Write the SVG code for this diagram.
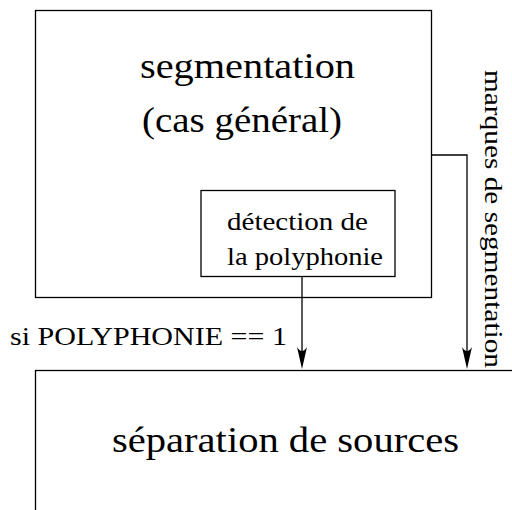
<svg xmlns="http://www.w3.org/2000/svg" width="512" height="510" viewBox="0 0 512 510">
<style>
.box{fill:none;stroke:#000;stroke-width:1.3}
.ln{fill:none;stroke:#000;stroke-width:1.3}
.hd{fill:#000;stroke:none}
text{font-family:'Liberation Serif','DejaVu Serif','Times New Roman',serif;fill:#000}
.big{font-size:35px}
.sm{font-size:26px}
</style>
<rect width="512" height="510" fill="#fff"/>
<g id="segmentation">
<rect class="box" x="35.5" y="10.5" width="396" height="287"/>
<text class="big" x="140" y="78" textLength="215" lengthAdjust="spacingAndGlyphs">segmentation</text>
<text class="big" x="142" y="132" textLength="200" lengthAdjust="spacingAndGlyphs">(cas général)</text>
</g>
<g id="detection">
<rect class="box" x="201" y="190.5" width="194" height="86"/>
<text class="sm" x="227" y="230" textLength="141" lengthAdjust="spacingAndGlyphs">détection de</text>
<text class="sm" x="227" y="265" textLength="156" lengthAdjust="spacingAndGlyphs">la polyphonie</text>
</g>
<g id="separation">
<rect class="box" x="35.5" y="370.5" width="500" height="200"/>
<text class="big" x="112" y="452" textLength="347" lengthAdjust="spacingAndGlyphs">séparation de sources</text>
</g>
<g id="connectors">
<line class="ln" x1="302" y1="277" x2="302" y2="355"/>
<path class="hd" d="M302,369 L297,347 Q302,355 307,347 Z"/>
<polyline class="ln" points="432,155 467,155 467,355"/>
<path class="hd" d="M467,369 L462,347 Q467,355 472,347 Z"/>
<text class="sm" x="10" y="345" textLength="277" lengthAdjust="spacingAndGlyphs">si POLYPHONIE == 1</text>
<text class="sm" transform="translate(485,70) rotate(90)" textLength="298" lengthAdjust="spacingAndGlyphs">marques de segmentation</text>
</g>
</svg>
